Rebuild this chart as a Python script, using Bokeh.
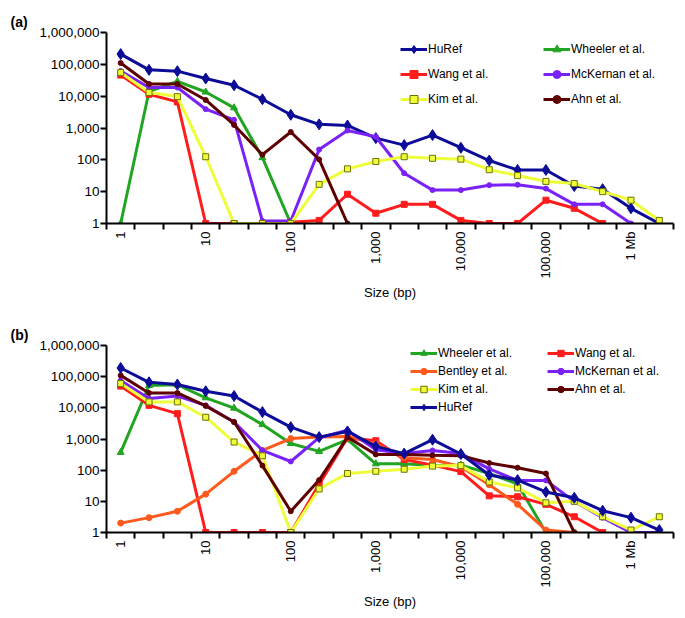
import math
from bokeh.plotting import figure
from bokeh.models import (FixedTicker, NumeralTickFormatter, Legend, LegendItem,
                          Range1d)
from bokeh.layouts import column
from bokeh.embed import file_html
from bokeh.resources import INLINE

# ---------------- data ----------------
# size bins: 3 per decade, labelled only at decades
bin_labels = ["1", "10", "100", "1,000", "10,000", "100,000", "1 Mb"]
n_bins = 20

# panel (a)
huref_a = [210000, 67000, 61000, 36000, 22000, 8000, 2600, 1300, 1200, 480,
           290, 600, 240, 95, 48, 48, 15, 12, 3, 1]
wheeler_a = [1, 14000, 29000, 13500, 4300, 117, 1]
wang_a = [46000, 11500, 6600, 1, 1, 1, 1.1, 1.25, 8.3, 2.1, 4, 4, 1.25, 1, 1,
          5.4, 3, 1]
mckernan_a = [62000, 18700, 18700, 3900, 1800, 1.2, 1.2, 210, 830, 530, 38,
              11.2, 11.2, 16, 16.5, 12.5, 4, 4, 1]
kim_a = [55000, 13000, 9700, 125, 1, 1, 1, 17, 52, 89, 125, 112, 105, 49, 32,
         21, 18, 10, 5.4, 1.25]
ahn_a = [110000, 24000, 24000, 7600, 1250, 145, 750, 103, 1]

# panel (b)
wheeler_b = [370, 52000, 55000, 21000, 9800, 2900, 720, 400, 950, 160, 160,
             140, 145, 78, 36, 1]
wang_b = [50000, 12000, 6500, 1, 1, 1, 1, 35, 1100, 880, 220, 145, 90, 15, 14,
          8, 3.2, 1]
bentley_b = [2, 3, 4.8, 17, 92, 430, 1030, 1150, 1200, 700, 250, 220, 128, 34,
             8, 1.2, 1]
mckernan_b = [75000, 20000, 24000, 12000, 3500, 430, 190, 1100, 1900, 450, 340,
              430, 340, 110, 47, 47, 10, 3, 1, 1]
kim_b = [60000, 15500, 15500, 5000, 800, 290, 1, 25, 78, 92, 107, 135, 140, 42,
         27, 9, 10, 3.2, 1.2, 3.2]
ahn_b = [110000, 30000, 30000, 11500, 3500, 140, 4.8, 48, 1150, 320, 320, 300,
         290, 170, 120, 78, 1]
huref_b = [190000, 66000, 56000, 34000, 24000, 7300, 2400, 1150, 1750, 580,
           340, 950, 330, 70, 48, 20, 13, 5, 3, 1.2]

# ---------------- styles ----------------
STY = {
    "HuRef": dict(color="#0c0c98", marker="diamond", size=11, fill="#0c0c98", edge="#0c0c98"),
    "Wheeler et al.": dict(color="#22a522", marker="triangle", size=7, fill="#22a522", edge="#22a522"),
    "Wang et al.": dict(color="#ff1c1c", marker="square", size=6, fill="#ff1c1c", edge="#ff1c1c"),
    "McKernan et al.": dict(color="#7a22f5", marker="circle", size=5, fill="#7a22f5", edge="#7a22f5"),
    "Kim et al.": dict(color="#eeff3a", marker="square", size=6, fill="#eeff3a", edge="#707000"),
    "Ahn et al.": dict(color="#5e0000", marker="circle", size=5, fill="#5e0000", edge="#5e0000"),
    "Bentley et al.": dict(color="#ff5a1e", marker="circle", size=6, fill="#ff5a1e", edge="#ff5a1e"),
}

FONT = "Liberation Sans"
LEFT = 106
FRAME_W = 567


def make_panel(tag, series, legend_cols, height, top, frame_h, legend_x,
               legend_top, legend_spacing, legend_item_h):
    right = 4
    width = LEFT + FRAME_W + right
    bottom = height - top - frame_h
    p = figure(width=width, height=height, y_axis_type="log",
               x_range=Range1d(-0.5, n_bins - 0.5), y_range=Range1d(1, 1e6),
               output_backend="svg", toolbar_location=None,
               min_border_left=LEFT, min_border_right=right,
               min_border_top=top, min_border_bottom=bottom)
    p.outline_line_color = None
    p.xgrid.visible = False
    p.ygrid.visible = False
    p.background_fill_color = "white"
    p.border_fill_color = "white"

    p.title.text = tag
    p.title.align = "left"
    p.title.offset = -(LEFT - 10)
    p.title.text_font = FONT
    p.title.text_font_size = "14px"
    p.title.text_font_style = "bold"
    p.title.text_color = "black"
    p.title.vertical_align = "top"
    p.title.standoff = 2

    renderers = {}
    for name, vals in series:
        s = STY[name]
        xs = list(range(len(vals)))
        lr = p.line(xs, vals, line_color=s["color"], line_width=3)
        mr = p.scatter(xs, vals, marker=s["marker"], size=s["size"],
                       fill_color=s["fill"], line_color=s["edge"], line_width=1)
        renderers[name] = [lr, mr]

    # x axis
    xa = p.xaxis[0]
    xa.ticker = FixedTicker(ticks=[0, 3, 6, 9, 12, 15, 18],
                            minor_ticks=[i - 0.5 for i in range(n_bins + 1)])
    xa.major_label_overrides = {3 * i: lab for i, lab in enumerate(bin_labels)}
    xa.major_label_orientation = math.pi / 2
    xa.major_tick_line_color = None
    xa.major_tick_out = 6
    xa.major_tick_in = 0
    xa.minor_tick_out = 6
    xa.minor_tick_in = 0
    xa.minor_tick_line_width = 2
    xa.minor_tick_line_color = "black"
    xa.major_label_standoff = 2
    xa.major_label_text_font = FONT
    xa.major_label_text_font_size = "13px"
    xa.major_label_text_color = "black"
    xa.axis_line_width = 2
    xa.axis_line_color = "black"
    xa.axis_label = "Size (bp)"
    xa.axis_label_text_font = FONT
    xa.axis_label_text_font_size = "13px"
    xa.axis_label_text_font_style = "normal"
    xa.axis_label_text_color = "black"
    xa.axis_label_standoff = 4

    # y axis
    ya = p.yaxis[0]
    ya.ticker = FixedTicker(ticks=[1, 10, 100, 1000, 10000, 100000, 1000000])
    ya.formatter = NumeralTickFormatter(format="0,0")
    ya.minor_tick_line_color = None
    ya.major_tick_out = 6
    ya.major_tick_in = 0
    ya.major_tick_line_width = 2
    ya.major_label_standoff = 1
    ya.major_label_text_font = FONT
    ya.major_label_text_font_size = "13.5px"
    ya.major_label_text_color = "black"
    ya.axis_line_width = 2
    ya.axis_line_color = "black"

    # legends (one per column); location is the legend's bottom-left corner
    for lx, names in zip(legend_x, legend_cols):
        n = len(names)
        lh = n * legend_item_h + (n - 1) * legend_spacing
        items = [LegendItem(label=nm, renderers=renderers[nm]) for nm in names]
        lg = Legend(items=items, location=(lx, legend_top - lh),
                    orientation="vertical",
                    padding=0, margin=0, spacing=legend_spacing,
                    glyph_width=27, glyph_height=legend_item_h,
                    label_height=legend_item_h, label_standoff=1,
                    label_text_font=FONT, label_text_font_size="12px",
                    label_text_color="black",
                    border_line_color=None, background_fill_alpha=0)
        p.add_layout(lg)
    return p


series_a = [("HuRef", huref_a), ("Wheeler et al.", wheeler_a),
            ("Wang et al.", wang_a), ("McKernan et al.", mckernan_a),
            ("Kim et al.", kim_a), ("Ahn et al.", ahn_a)]
pa = make_panel("(a)", series_a,
                [["HuRef", "Wang et al.", "Kim et al."],
                 ["Wheeler et al.", "McKernan et al.", "Ahn et al."]],
                height=310, top=32, frame_h=191,
                legend_x=[294, 437], legend_top=184,
                legend_spacing=5, legend_item_h=20)

series_b = [("Wheeler et al.", wheeler_b), ("Wang et al.", wang_b),
            ("Bentley et al.", bentley_b), ("McKernan et al.", mckernan_b),
            ("Kim et al.", kim_b), ("Ahn et al.", ahn_b), ("HuRef", huref_b)]
pb = make_panel("(b)", series_b,
                [["Wheeler et al.", "Bentley et al.", "Kim et al.", "HuRef"],
                 ["Wang et al.", "McKernan et al.", "Ahn et al."]],
                height=304, top=35, frame_h=187,
                legend_x=[304, 441], legend_top=187,
                legend_spacing=2, legend_item_h=16)

layout = column(pa, pb)
open("out.html", "w").write(file_html(layout, INLINE))
